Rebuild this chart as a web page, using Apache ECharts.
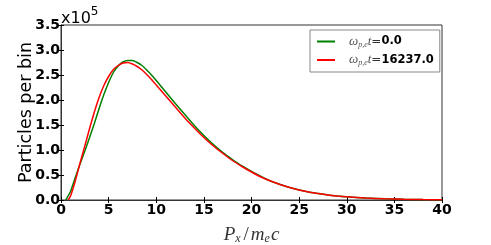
<!DOCTYPE html>
<html><head><meta charset="utf-8">
<script src="https://cdn.jsdelivr.net/npm/echarts@6/dist/echarts.min.js"></script>
<style>html,body{margin:0;padding:0;background:#fff}#c{width:491px;height:245px}</style>
</head><body><div id="c"></div>
<script>
// Data (y values in units of 1e5)
const greenX = [0.5,1,1.5,2,2.5,3,3.5,4,4.5,5,5.5,6,6.5,7,7.5,8,8.5,9,9.5,10,11,12,13,14,15,16,17,18,19,20,21,22,23,24,25,26,27,28,29,30,32,34,36,38,40];
const greenY = [0,0.17,0.45,0.72,0.98,1.25,1.53,1.83,2.11,2.35,2.55,2.68,2.76,2.79,2.79,2.75,2.69,2.60,2.50,2.39,2.16,1.93,1.71,1.49,1.29,1.11,0.95,0.81,0.68,0.57,0.47,0.38,0.31,0.25,0.20,0.16,0.13,0.10,0.08,0.065,0.04,0.025,0.015,0.008,0.004];
const redX = [0.75,1,1.5,2,2.5,3,3.5,4,4.5,5,5.5,6,6.5,7,7.5,8,8.5,9,9.5,10,11,12,13,14,15,16,17,18,19,20,21,22,23,24,25,26,27,28,29,30,32,34,36,38,40];
const redY = [0,0.08,0.38,0.74,1.08,1.43,1.76,2.05,2.29,2.47,2.61,2.69,2.74,2.75,2.72,2.67,2.60,2.51,2.41,2.30,2.08,1.86,1.64,1.44,1.25,1.08,0.93,0.79,0.67,0.56,0.46,0.38,0.31,0.25,0.20,0.16,0.13,0.10,0.08,0.065,0.04,0.025,0.015,0.008,0.004];
const xTicks = {min:0, max:40, interval:5};
const yTicks = {min:0, max:3.5, interval:0.5};
const seriesNames = ['t0','t1'];
const legendValues = ['0.0','16237.0'];

const pairs = (xs, ys) => xs.map((x,i)=>[x, ys[i]]);
const chart = echarts.init(document.getElementById('c'));
const tickStyle = {show:true, inside:true, length:3, lineStyle:{color:'#000', width:1}};
const labelFont = {fontFamily:'DejaVu Sans', fontWeight:'bold', fontSize:14, color:'#000'};
chart.setOption({
  animation:false,
  grid:{left:61, right:49, top:25, bottom:45, show:true, borderColor:'#333', borderWidth:1, outerBoundsMode:'none', containLabel:false},
  title:{
    text:'{a|x10}{b|5}', left:61, top:3, padding:0,
    textStyle:{fontWeight:'normal', rich:{
      a:{fontFamily:'DejaVu Sans', fontWeight:'normal', fontSize:16, color:'#000', padding:[8,0,0,0]},
      b:{fontFamily:'DejaVu Sans', fontWeight:'normal', fontSize:12, color:'#000', padding:[0,0,6,0]}
    }}
  },
  legend:{
    orient:'vertical', left:310, top:30, padding:[5,6,5,7], itemGap:5,
    borderColor:'#888', borderWidth:1, backgroundColor:'#fff',
    itemWidth:18, itemHeight:2, icon:'rect',
    data: seriesNames,
    formatter: n => {
      const v = legendValues[seriesNames.indexOf(n)];
      return '{w|ω}{s|p,e}{w|t}{e|=}{v|' + v + '}';
    },
    textStyle:{padding:[0,0,0,9], rich:{
      w:{fontFamily:'Liberation Serif', fontStyle:'italic', fontSize:13, color:'#555', height:15},
      s:{fontFamily:'Liberation Serif', fontStyle:'italic', fontSize:8, color:'#555', padding:[6,0,0,0]},
      e:{fontFamily:'DejaVu Sans', fontSize:12, color:'#333'},
      v:{fontFamily:'DejaVu Sans', fontWeight:'bold', fontSize:11.5, color:'#000'}
    }}
  },
  xAxis:[{
    type:'value', min:xTicks.min, max:xTicks.max, interval:xTicks.interval,
    axisLine:{show:true, lineStyle:{color:'#333'}}, axisTick:tickStyle,
    splitLine:{show:false},
    axisLabel:Object.assign({margin:3, formatter: v => String(v)}, labelFont),
    name:'{p|P}{s|x}{n|/}{p|m}{s|e}{p|c}', nameLocation:'middle', nameGap:25, nameMoveOverlap:false,
    nameTextStyle:{rich:{
      p:{fontFamily:'Liberation Serif', fontStyle:'italic', fontSize:19, color:'#333'},
      n:{fontFamily:'Liberation Serif', fontSize:19, color:'#333', padding:[0,2,0,2]},
      s:{fontFamily:'Liberation Serif', fontStyle:'italic', fontSize:12, color:'#333', padding:[8,1,0,0]}
    }}
  },{
    type:'value', position:'top', min:xTicks.min, max:xTicks.max, interval:xTicks.interval,
    axisLine:{show:true, lineStyle:{color:'#333'}}, axisTick:tickStyle,
    splitLine:{show:false}, axisLabel:{show:false}
  }],
  yAxis:[{
    type:'value', min:yTicks.min, max:yTicks.max, interval:yTicks.interval,
    axisLine:{show:true, lineStyle:{color:'#333'}}, axisTick:tickStyle,
    splitLine:{show:false},
    axisLabel:Object.assign({margin:1, formatter: v => v.toFixed(1)}, labelFont),
    name:'Particles per bin', nameLocation:'middle', nameGap:26, nameMoveOverlap:false,
    nameTextStyle:{fontFamily:'DejaVu Sans', fontSize:17.5, color:'#000'}
  },{
    type:'value', position:'right', min:yTicks.min, max:yTicks.max, interval:yTicks.interval,
    axisLine:{show:true, lineStyle:{color:'#333'}}, axisTick:tickStyle,
    splitLine:{show:false}, axisLabel:{show:false}
  }],
  series:[
    {name:seriesNames[0], type:'line', data:pairs(greenX, greenY), showSymbol:false, symbol:'none', smooth:0.15,
     itemStyle:{color:'#008000'}, lineStyle:{color:'#008000', width:1.5}},
    {name:seriesNames[1], type:'line', data:pairs(redX, redY), showSymbol:false, symbol:'none', smooth:0.15,
     itemStyle:{color:'#ff0000'}, lineStyle:{color:'#ff0000', width:1.5}}
  ]
});
</script></body></html>
